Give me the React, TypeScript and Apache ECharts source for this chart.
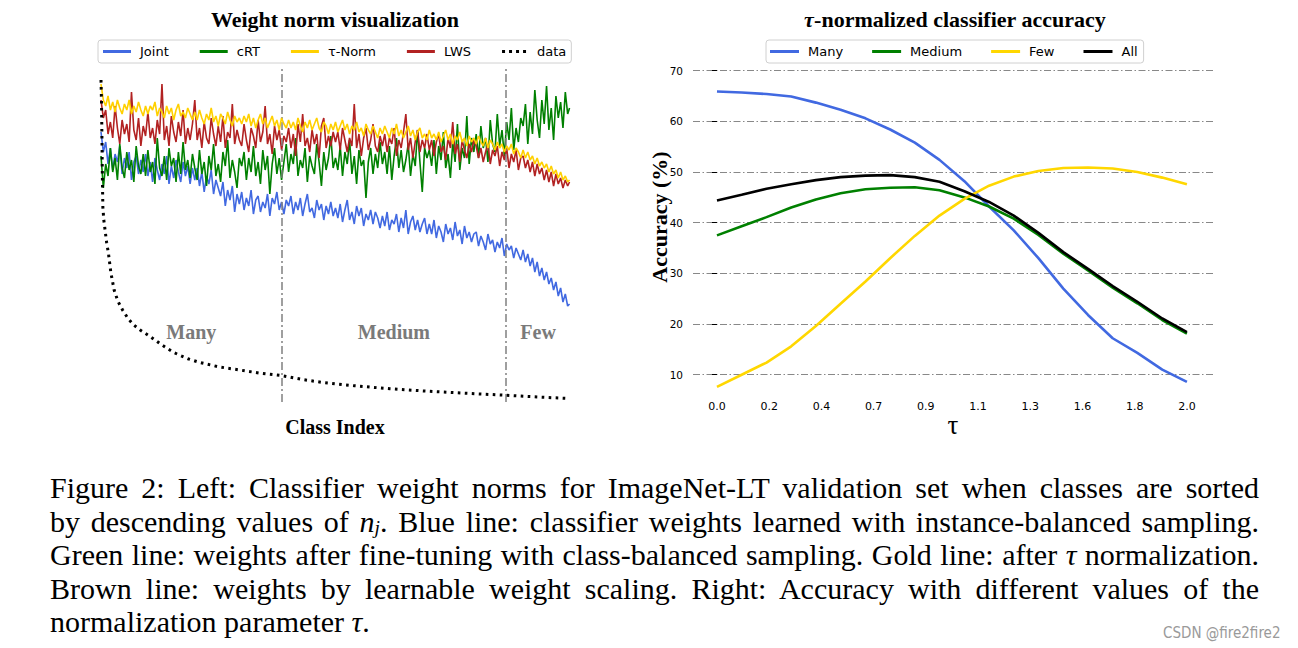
import React, { useEffect, useRef } from 'react';
import * as echarts from 'echarts';

// ---------- Left panel: weight norms per class (sampled every 5 classes) ----------
const classIdx = [0,5,10,15,20,25,30,35,40,45,50,55,60,65,70,75,80,85,90,95,
100,105,110,115,120,125,130,135,140,145,150,155,160,165,170,175,180,185,190,195,
200,205,210,215,220,225,230,235,240,245,250,255,260,265,270,275,280,285,290,295,
300,305,310,315,320,325,330,335,340,345,350,355,360,365,370,375,380,385,390,395,
400,405,410,415,420,425,430,435,440,445,450,455,460,465,470,475,480,485,490,495,
500,505,510,515,520,525,530,535,540,545,550,555,560,565,570,575,580,585,590,595,
600,605,610,615,620,625,630,635,640,645,650,655,660,665,670,675,680,685,690,695,
700,705,710,715,720,725,730,735,740,745,750,755,760,765,770,775,780,785,790,795,
800,805,810,815,820,825,830,835,840,845,850,855,860,865,870,875,880,885,890,895,
900,905,910,915,920,925,930,935,940,945,950,955,960,965,970,975,980,985,990,995,999];

const jointNorm = [
134,124,129,118,126,115,123,119,127,113,121,116,124,110,119,122,113,120,114,123,
112,119,109,121,115,110,118,113,122,108,117,111,120,114,109,119,112,117,108,116,
110,116,107,114,104,112,108,115,103,110,106,102,109,97,105,100,107,94,103,98,
104,95,101,97,105,93,100,102,94,99,96,103,92,101,98,104,95,99,93,100,
97,102,93,99,95,101,92,98,103,94,96,91,100,95,98,90,97,93,99,92,
96,91,98,89,95,100,90,94,88,97,92,96,87,93,90,95,88,94,91,86,
92,87,94,85,90,88,93,84,91,86,95,83,89,92,85,90,84,88,91,83,
88,83,90,81,87,84,79,88,83,86,80,89,82,85,78,87,81,84,79,83,
84,77,82,79,75,83,78,80,74,79,76,81,72,78,75,77,71,76,73,70,
75,69,73,67,71,64,69,62,66,60,64,58,61,55,59,52,56,49,53,47,
48];

const crtNorm = [
122,106,118,112,126,114,121,110,128,116,111,124,115,120,109,127,117,113,123,112,
125,114,119,108,131,116,112,122,110,126,117,121,109,124,113,129,115,120,111,123,
116,110,125,113,119,107,122,115,128,112,118,109,124,117,130,111,120,114,106,121,
117,124,110,121,114,127,112,119,108,125,115,122,103,118,126,113,121,110,119,128,
114,123,118,131,112,120,116,126,109,122,117,113,128,119,107,124,115,121,132,116,
121,115,127,112,124,118,130,113,122,108,125,117,120,101,119,126,113,123,116,129,
118,124,113,127,110,122,131,116,125,114,120,128,112,123,117,135,119,104,126,121,
125,117,130,113,127,120,134,116,123,111,129,119,138,115,126,121,142,118,131,124,
133,121,137,126,131,119,140,128,124,143,127,135,122,139,130,146,125,136,129,141,
137,148,128,144,133,155,140,131,150,138,157,135,146,130,152,141,149,136,154,143,
146];

const tauNormVals = [
158,150,147,152,145,149,144,150,146,143,148,145,150,143,147,144,149,145,142,147,
143,147,145,149,142,146,144,141,147,143,146,140,145,148,142,144,141,146,143,140,
144,140,145,141,138,143,140,146,139,142,137,143,141,138,144,140,137,142,139,141,
138,142,139,143,137,141,136,140,143,138,141,136,139,142,137,140,135,141,138,136,
140,136,139,135,141,137,134,139,136,140,135,138,141,136,134,139,137,133,138,135,
139,134,137,140,135,138,133,137,135,139,134,136,132,138,135,133,137,134,131,136,
133,137,134,131,136,133,138,132,135,131,134,137,132,135,130,134,136,131,133,130,
135,131,133,130,134,129,132,135,130,133,128,132,130,134,129,131,127,132,129,131,
128,132,129,127,131,126,130,128,125,129,126,128,124,127,125,128,123,126,124,121,
125,121,124,120,122,118,121,117,119,116,118,114,117,113,115,111,114,110,112,109,
110];

const lwsNorm = [
150,141,145,133,139,131,147,136,128,140,133,138,129,154,135,130,141,127,137,132,
144,131,136,128,140,133,158,130,137,127,142,134,129,139,132,145,128,136,130,138,
150,130,136,126,139,131,128,141,133,127,137,129,142,126,134,131,148,128,135,130,
127,138,130,124,136,132,126,140,129,134,147,128,133,123,137,130,135,125,132,129,
136,126,133,122,138,129,143,127,131,124,135,128,133,121,137,141,126,132,127,134,
129,134,125,136,130,124,131,127,148,126,133,122,131,136,125,130,138,127,124,132,
127,133,124,131,128,136,122,130,126,134,143,125,131,121,129,135,124,130,126,133,
125,130,122,129,133,124,127,120,131,126,139,123,128,119,130,125,121,128,124,130,
127,121,126,119,124,128,118,125,122,127,117,124,120,126,116,123,119,125,115,121,
122,116,120,114,119,112,118,113,116,110,115,109,114,107,113,108,111,106,110,107,
109];

// number of training images per class (n_j)
const dataIdx = [0,1,2,3,4,6,9,12,16,21,28,36,46,58,70,85,104,130,155,185,211,250,296,340,385,430,473,540,616,690,759,820,864,930,999];
const dataCount = [1280,1200,1050,880,770,720,675,630,585,510,440,395,360,325,300,278,255,220,190,165,150,133,120,107,98,82,70,57,45,36,29,23,19,12,6];

const groupBounds = [0, 385, 864, 1000];
const groupNames = ['Many', 'Medium', 'Few'];

// ---------- Right panel: accuracy vs tau ----------
const tauValues = [0,0.105,0.211,0.316,0.421,0.526,0.632,0.737,0.842,0.947,1.053,1.158,1.263,1.368,1.474,1.579,1.684,1.789,1.895,2.0];
const accMany = [65.9,65.7,65.4,64.9,63.7,62.3,60.6,58.4,55.8,52.4,48.2,43.2,38.5,33.0,27.0,21.8,17.2,14.3,11.0,8.6];
const accMedium = [37.5,39.3,41.1,43.0,44.6,45.8,46.6,46.9,47.0,46.4,45.0,43.2,40.8,37.6,33.9,30.6,27.2,24.1,20.8,18.1];
const accFew = [7.6,10.0,12.4,15.6,19.6,24.0,28.4,33.0,37.4,41.4,44.7,47.3,49.1,50.2,50.8,50.9,50.7,50.0,48.9,47.6];
const accAll = [44.4,45.5,46.7,47.6,48.4,49.0,49.3,49.4,49.0,48.1,46.2,44.1,41.4,38.0,34.2,30.9,27.5,24.4,21.1,18.4];
const tauTicks = [0,0.2222,0.4444,0.6667,0.8889,1.1111,1.3333,1.5556,1.7778,2.0];
const accTicks = [10,20,30,40,50,60,70];

const serif = '"Liberation Serif", "Times New Roman", serif';
const sans = '"DejaVu Sans", sans-serif';
const dotsIcon = 'path://M0,0h3v3h-3z M7,0h3v3h-3z M14,0h3v3h-3z M21,0h3v3h-3z';

const pairs = (xs: number[], ys: number[]) => xs.map((x, i) => [x, ys[i]]);

function buildOption(): any {
  const leftLine = (name: string, vals: number[], color: string, z: number) => ({
    name, type: 'line', xAxisIndex: 0, yAxisIndex: 0, data: pairs(classIdx, vals),
    symbol: 'none', z, lineStyle: { color, width: 1.6 }, itemStyle: { color },
  });
  const rightLine = (name: string, vals: number[], color: string, z: number) => ({
    name, type: 'line', xAxisIndex: 1, yAxisIndex: 2, data: pairs(tauValues, vals),
    symbol: 'none', z, lineStyle: { color, width: 2.6 }, itemStyle: { color },
  });
  const legendBase = {
    orient: 'horizontal', selectedMode: false, itemHeight: 3, icon: 'rect',
    borderColor: '#d0d0d0', borderWidth: 1, borderRadius: 3, backgroundColor: '#fff',
    textStyle: { fontFamily: sans, fontSize: 13, color: '#000', padding: [0, 0, 0, 4] },
  };
  return {
    animation: false,
    backgroundColor: '#ffffff',
    title: [
      { text: 'Weight norm visualization', left: 335, top: 8, textAlign: 'center', padding: 0,
        textStyle: { fontFamily: serif, fontWeight: 'bold', fontSize: 22, color: '#000' } },
      { text: '{t|τ}-normalized classifier accuracy', left: 955, top: 8, textAlign: 'center', padding: 0,
        textStyle: { fontFamily: serif, fontWeight: 'bold', fontSize: 22, color: '#000',
          rich: { t: { fontFamily: serif, fontStyle: 'italic', fontWeight: 'bold', fontSize: 22, color: '#000' } } } },
    ],
    legend: [
      { ...legendBase, left: 98, top: 40, itemWidth: 28, itemGap: 31, padding: [5, 5, 5, 5],
        data: [{ name: 'Joint' }, { name: 'cRT' }, { name: 'τ-Norm' }, { name: 'LWS' }, { name: 'data', icon: dotsIcon }] },
      { ...legendBase, left: 766, top: 40, itemWidth: 29, itemGap: 29, padding: [5, 6, 5, 4],
        data: ['Many', 'Medium', 'Few', 'All'] },
    ],
    grid: [
      { left: 101, top: 68, width: 469, height: 334 },
      { left: 693, top: 70.7, width: 520, height: 354.7 },
    ],
    xAxis: [
      { type: 'value', gridIndex: 0, min: 0, max: 1000, show: false },
      { type: 'value', gridIndex: 1, min: -0.102, max: 2.111,
        axisLine: { show: false }, axisTick: { show: false }, splitLine: { show: false },
        axisLabel: { customValues: tauTicks, formatter: (v: number) => v.toFixed(1), margin: -24,
          fontSize: 11, fontFamily: sans, color: '#000' } },
    ],
    yAxis: [
      { type: 'value', gridIndex: 0, min: -1, max: 166, show: false },
      { type: 'value', gridIndex: 0, min: -8, max: 1328, show: false },
      { type: 'value', gridIndex: 1, min: 0, max: 70, interval: 10,
        axisLine: { show: false },
        axisTick: { show: true, customValues: accTicks, length: 5, lineStyle: { color: '#000', width: 1 } },
        axisLabel: { customValues: accTicks, margin: 10, fontSize: 10.5, fontFamily: sans, color: '#000' },
        splitLine: { show: true, lineStyle: { color: '#888', width: 1, type: [7, 2.5, 1.5, 2.5] } } },
    ],
    series: [
      leftLine('Joint', jointNorm, '#4169E1', 2),
      leftLine('cRT', crtNorm, '#008000', 3),
      leftLine('LWS', lwsNorm, '#B22222', 4),
      leftLine('τ-Norm', tauNormVals, '#FFD000', 5),
      {
        name: 'data', type: 'line', xAxisIndex: 0, yAxisIndex: 1, data: pairs(dataIdx, dataCount),
        symbol: 'none', z: 6, lineStyle: { color: '#000', width: 3, type: [2.6, 4.4] }, itemStyle: { color: '#000' },
        markLine: {
          silent: true, symbol: ['none', 'none'], label: { show: false },
          lineStyle: { color: '#808080', width: 1.5, type: [8, 3, 2, 3] },
          data: groupBounds.slice(1, 3).map((b) => ({ xAxis: b })),
        },
        markArea: {
          silent: true, itemStyle: { color: 'rgba(0,0,0,0)' },
          label: { show: true, position: 'inside', offset: [0, 97], fontFamily: serif, fontWeight: 'bold', fontSize: 20, color: '#7a7a7a' },
          data: groupNames.map((n, i) => [{ name: n, xAxis: groupBounds[i] }, { xAxis: groupBounds[i + 1] }]),
        },
      },
      rightLine('Many', accMany, '#4169E1', 2),
      rightLine('Medium', accMedium, '#008000', 3),
      rightLine('Few', accFew, '#FFD700', 4),
      rightLine('All', accAll, '#000000', 5),
    ],
    graphic: [
      { type: 'text', x: 335, y: 427, style: { text: 'Class Index', font: 'bold 20px "Liberation Serif"', fill: '#000', align: 'center', verticalAlign: 'middle', textAlign: 'center', textVerticalAlign: 'middle' } },
      { type: 'text', x: 659, y: 217, rotation: Math.PI / 2, style: { text: 'Accuracy (%)', font: 'bold 22px "Liberation Serif"', fill: '#000', align: 'center', verticalAlign: 'middle', textAlign: 'center', textVerticalAlign: 'middle' } },
      { type: 'text', x: 953, y: 425, style: { text: 'τ', font: '27px "Liberation Serif"', fill: '#000', align: 'center', verticalAlign: 'middle', textAlign: 'center', textVerticalAlign: 'middle' } },
    ],
  };
}

const lineBox: React.CSSProperties = { height: 33.5, whiteSpace: 'nowrap' };
const lineJ = (ws: number): React.CSSProperties => ({ ...lineBox, textAlign: 'justify', textAlignLast: 'justify', wordSpacing: ws + 'px' } as any);

export default function App() {
  const ref = useRef<HTMLDivElement>(null);
  useEffect(() => {
    document.body.style.margin = '0';
    const chart = echarts.init(ref.current!, undefined, { renderer: 'svg' });
    chart.setOption(buildOption());
    return () => chart.dispose();
  }, []);
  return (
    <div style={{ position: 'relative', width: 1298, height: 648, background: '#fff', overflow: 'hidden' }}>
      <div ref={ref} style={{ position: 'absolute', left: 0, top: 0, width: 1298, height: 460 }} />
      <div style={{ position: 'absolute', left: 50, top: 471, width: 1209, fontFamily: serif, fontSize: 30, lineHeight: '33.5px', color: '#000' }}>
        <div style={lineJ(-2)}>Figure 2: Left: Classifier weight norms for ImageNet-LT validation set when classes are sorted</div>
        <div style={lineJ(-2)}>by descending values of <i>n</i><i style={{ fontSize: '65%', position: 'relative', top: '0.12em', lineHeight: 0 }}>j</i>. Blue line: classifier weights learned with instance-balanced sampling.</div>
        <div style={lineJ(-2)}>Green line: weights after fine-tuning with class-balanced sampling. Gold line: after <i>τ</i> normalization.</div>
        <div style={lineJ(-2)}>Brown line: weights by learnable weight scaling. Right: Accuracy with different values of the</div>
        <div style={lineBox}>normalization parameter <i>τ</i>.</div>
      </div>
      <div style={{ position: 'absolute', left: 1163, top: 624, fontFamily: '"Liberation Sans Narrow", "DejaVu Sans Condensed", sans-serif', fontSize: 15, color: '#9a9a9a', whiteSpace: 'nowrap' }}>CSDN @fire2fire2</div>
    </div>
  );
}
